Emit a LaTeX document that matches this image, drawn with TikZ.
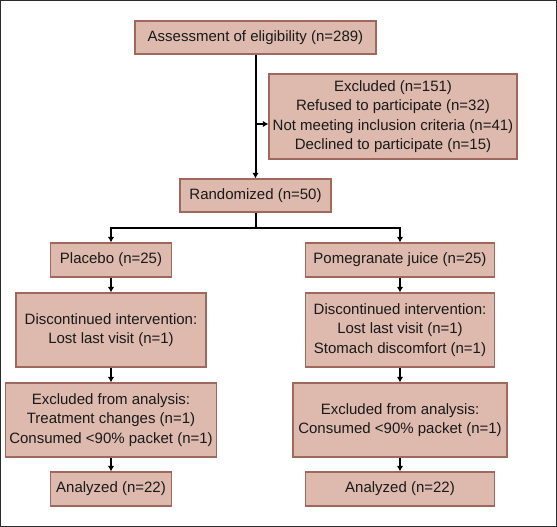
\documentclass[tikz,border=0pt]{standalone}
\usepackage{fontspec}
\setmainfont{Liberation Sans}
\usetikzlibrary{arrows.meta}
\definecolor{boxfill}{HTML}{DEBAAE}
\definecolor{boxline}{HTML}{A0675C}
\definecolor{frameline}{HTML}{2B2B2B}
\begin{document}
\begin{tikzpicture}[x=1pt,y=-1pt,
	box/.style={draw=boxline,fill=boxfill,line width=1.3pt,align=center,inner sep=0pt,text=black!90,font=\fontsize{15}{19.3}\selectfont},
	arr/.style={line width=2pt,-{Latex[length=5.5pt,width=6.5pt]}}]
	\useasboundingbox (0,0) rectangle (557,527);
	\draw[frameline,line width=1.4pt] (0.7,0.7) rectangle (556.3,526.3);
	\node[box,minimum width=241pt,minimum height=33pt] (assess) at (255.5,37.5) {Assessment of eligibility (n=289)};
	\node[box,minimum width=248pt,minimum height=85pt] (excl) at (393,116.5)
		{Excluded (n=151)\\Refused to participate (n=32)\\Not meeting inclusion criteria (n=41)\\Declined to participate (n=15)};
	\node[box,minimum width=151pt,minimum height=33pt] (rand) at (255.5,195.5) {Randomized (n=50)};
	\node[box,minimum width=121pt,minimum height=34pt] (plac) at (111,260) {Placebo (n=25)};
	\node[box,minimum width=189pt,minimum height=34pt] (pome) at (400,260) {Pomegranate juice (n=25)};
	\node[box,minimum width=190pt,minimum height=74pt] (discL) at (111,330)
		{Discontinued intervention:\\Lost last visit (n=1)};
	\node[box,minimum width=189pt,minimum height=74pt] (discR) at (400,330)
		{Discontinued intervention:\\Lost last visit (n=1)\\Stomach discomfort (n=1)};
	\node[box,minimum width=211pt,minimum height=74pt] (exaL) at (111,420)
		{Excluded from analysis:\\Treatment changes (n=1)\\Consumed <90\% packet (n=1)};
	\node[box,minimum width=214pt,minimum height=74pt] (exaR) at (400,420)
		{Excluded from analysis:\\Consumed <90\% packet (n=1)};
	\node[box,minimum width=121pt,minimum height=34pt] (anaL) at (111,489) {Analyzed (n=22)};
	\node[box,minimum width=189pt,minimum height=34pt] (anaR) at (400,489) {Analyzed (n=22)};
	\coordinate (exclin) at ([yshift=-7.5pt]excl.west);
	\coordinate (branch) at (assess.south |- exclin);
	\draw[arr] (assess.south) -- (rand.north);
	\draw[arr] (branch) -- (exclin);
	\draw[line width=2pt] (rand.south) -- ++(0,15) coordinate (split);
	\draw[arr] (split) -| (plac.north);
	\draw[arr] (split) -| (pome.north);
	\draw[arr] (plac) -- (discL);
	\draw[arr] (discL) -- (exaL);
	\draw[arr] (exaL) -- (anaL);
	\draw[arr] (pome) -- (discR);
	\draw[arr] (discR) -- (exaR);
	\draw[arr] (exaR) -- (anaR);
\end{tikzpicture}
\end{document}
